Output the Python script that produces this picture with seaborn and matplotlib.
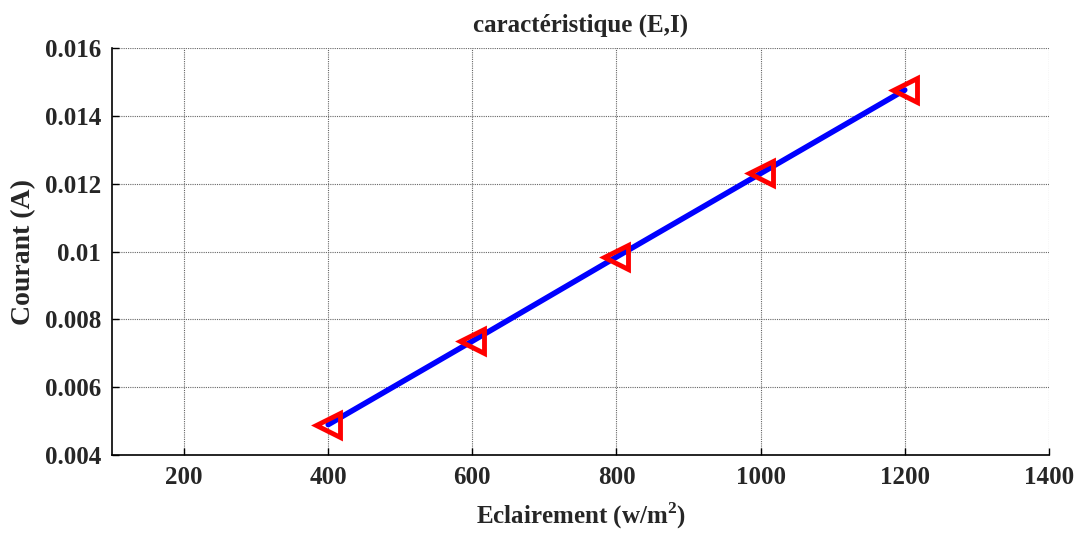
import matplotlib
matplotlib.use("Agg")
import matplotlib.pyplot as plt
import seaborn as sns
import pandas as pd

# Irradiance (W/m^2) and measured current (A)
eclairement = [400, 600, 800, 1000, 1200]
courant = [0.00490, 0.00736, 0.00984, 0.01230, 0.01476]

x_ticks = [200, 400, 600, 800, 1000, 1200, 1400]
y_ticks = [0.004, 0.006, 0.008, 0.01, 0.012, 0.014, 0.016]
y_tick_labels = ["0.004", "0.006", "0.008", "0.01", "0.012", "0.014", "0.016"]

df = pd.DataFrame({"E": eclairement, "I": courant})

sns.set_style("white")
plt.rcParams["font.family"] = ["Liberation Serif", "DejaVu Serif"]
plt.rcParams["font.weight"] = "bold"
plt.rcParams["mathtext.fontset"] = "custom"
plt.rcParams["mathtext.rm"] = "Liberation Serif:bold"
plt.rcParams["mathtext.bf"] = "Liberation Serif:bold"

fig = plt.figure(figsize=(10.78, 5.38), dpi=100)
ax = fig.add_axes([0.1039, 0.154, 0.8691, 0.757])

sns.lineplot(data=df, x="E", y="I", ax=ax, color="#0000ff", linewidth=4,
             marker="<", markersize=17, markeredgecolor="#ff0000",
             markerfacecolor="none", markeredgewidth=3.5, zorder=3)

ax.set_xlim(100, 1400)
ax.set_ylim(0.004, 0.016)
ax.set_xticks(x_ticks)
ax.set_yticks(y_ticks)
ax.set_yticklabels(y_tick_labels)

ax.grid(True, color="#666666", linestyle=(0, (1, 1)), linewidth=0.8)
ax.set_axisbelow(True)

for side in ["top", "right"]:
    ax.spines[side].set_visible(False)
for side in ["left", "bottom"]:
    ax.spines[side].set_color("black")
    ax.spines[side].set_linewidth(1.2)

ax.tick_params(axis="both", direction="in", length=5, width=1, color="black",
               labelsize=18, pad=8, left=True, bottom=True)
for lab in ax.get_xticklabels() + ax.get_yticklabels():
    lab.set_fontweight("bold")

ax.set_title("caractéristique (E,I)", fontsize=18, fontweight="bold", pad=12)
ax.set_xlabel("Eclairement (w/m$^{2}$)", fontsize=18, fontweight="bold", labelpad=8)
ax.set_ylabel("Courant (A)", fontsize=20, fontweight="bold", labelpad=6)

fig.savefig("out.png", dpi=100)
